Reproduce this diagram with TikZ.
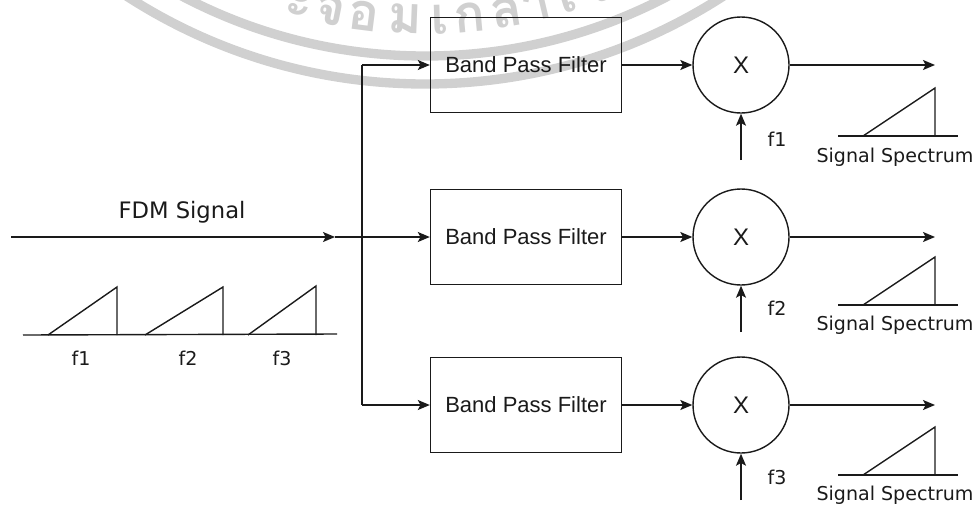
\documentclass[tikz,border=0pt]{standalone}
\usepackage{fontspec}
\setmainfont{DejaVu Sans}
\newfontfamily\arialf{Liberation Sans}
\newfontfamily\thaifont[Script=Thai]{Loma}
\usetikzlibrary{arrows.meta}
\definecolor{wmgray}{HTML}{D0D0D0}
\definecolor{ink}{HTML}{1A1A1A}
\begin{document}
\begin{tikzpicture}[x=0.75pt,y=-0.75pt,
  line width=1.05pt, draw=ink,
  arr/.style={draw=ink,-{Stealth[length=9pt,width=7.5pt,inset=2pt]}},
  bpf/.style={draw=ink, rectangle, minimum width=143.25pt, minimum height=71.25pt, inner sep=0pt, text=ink, font=\arialf\fontsize{16.5}{18}\selectfont},
  mult/.style={draw=ink, circle, minimum size=72pt, inner sep=0pt, text=ink, font=\arialf\fontsize{18}{20}\selectfont},
  lbl/.style={inner sep=0pt, text=ink, font=\fontsize{14.3}{16}\selectfont},
  biglbl/.style={inner sep=0pt, text=ink, font=\fontsize{17}{19}\selectfont},
  wmline/.style={draw=wmgray, line width=7pt},
  wmtext/.style={text=wmgray, inner sep=0pt, anchor=base, font=\thaifont\bfseries\fontsize{39}{40}\selectfont}
]
\useasboundingbox (0,0) rectangle (980,507);
% watermark
\begin{scope}
  \clip (0,0) rectangle (980,507);
  \draw[wmline] (425,-466) circle[radius=522];
  \draw[wmline] (425,-466) circle[radius=550];
  \foreach \g/\a in {ะ/-14.9, จ/-11.2, อ/-7.2, ม/-2.3, เ/1.8, ก/5.3, ล้/9.7, า/13.3, เ/17.0, จ/20.7}
    \node[wmtext, rotate=\a] at ({425+500*sin(\a)},{-466+500*cos(\a)}) {\g};
\end{scope}

% input
\coordinate (in) at (11,237);
\coordinate (mid) at (335,237);
\coordinate (jt) at (362,65);
\coordinate (jb) at (362,405);
\node[biglbl] (fdm) at (182,212) {FDM Signal};

% filters and multipliers
\foreach \i/\y in {1/65,2/237,3/405}{
  \node[bpf] (bpf\i) at (526,\y) {Band Pass Filter};
  \node[mult] (mul\i) at (741,\y) {X};
  \coordinate (out\i) at (935,\y);
}
\coordinate (fin1) at (741,160);
\coordinate (fin2) at (741,332);
\coordinate (fin3) at (741,500);

\draw[arr] (in) -- (mid);
\draw[arr] (mid) -- (bpf2.west);
\draw (jt) -- (jb);
\draw[arr] (jt) -- (bpf1.west);
\draw[arr] (jb) -- (bpf3.west);
\foreach \i in {1,2,3}{
  \draw[arr] (bpf\i.east) -- (mul\i.west);
  \draw[arr] (mul\i.east) -- (out\i);
  \draw[arr] (fin\i) -- (mul\i.south);
}
\node[lbl] (lf1) at (777,139) {f1};
\node[lbl] (lf2) at (777,308) {f2};
\node[lbl] (lf3) at (777,477) {f3};

% left spectrum
\draw (23,335) -- (337,334);
\draw (48,335) -- (117,287) -- (117,335);
\draw (145,335) -- (223,287) -- (223,335);
\draw (248,335) -- (316,286) -- (316,335);
\node[lbl] (s1) at (81,358) {f1};
\node[lbl] (s2) at (188,358) {f2};
\node[lbl] (s3) at (282,358) {f3};

% right spectra
\foreach \i/\y/\t in {1/136/157,2/305/325,3/475/495}{
  \draw (838,\y) -- (958,\y);
  \draw (863,\y) -- (935,\y-48) -- (935,\y);
  \node[lbl] (ss\i) at (895,\t) {Signal Spectrum};
}
\end{tikzpicture}
\end{document}
